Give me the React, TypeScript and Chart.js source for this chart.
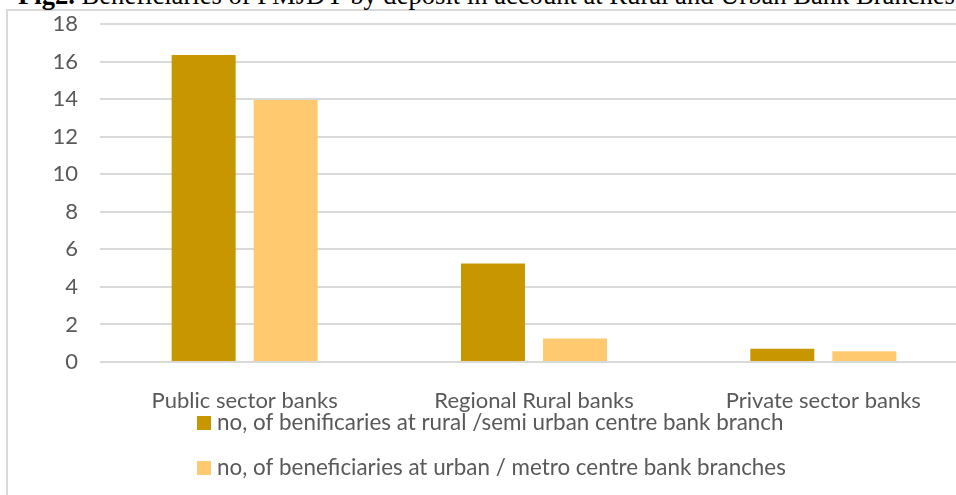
import React, { useEffect, useRef } from 'react';
import { Chart, registerables } from 'chart.js';

Chart.register(...registerables);

const titleBold = 'Fig2.';
const titleRest = ' Beneficiaries of PMJDY by deposit in account at Rural and Urban Bank Branches';
const categories = ['Public sector banks', 'Regional Rural banks', 'Private sector banks'];
const ruralLabel = 'no, of benificaries at rural /semi urban centre bank branch';
const urbanLabel = 'no, of beneficiaries at urban / metro centre bank branches';
const ruralValues = [16.35, 5.25, 0.7];
const urbanValues = [13.95, 1.25, 0.57];
const yMin = 0;
const yMax = 18;
const yStep = 2;

const FONT = 'Lato, "Open Sans", sans-serif';
const FONT_SIZE = 22;
const TEXT_COLOR = '#595959';

const stackedLegend = {
  id: 'stackedLegend',
  afterDraw(chart: any) {
    const { ctx, chartArea } = chart;
    ctx.save();
    ctx.font = `${FONT_SIZE + 0.4}px ${FONT}`;
    ctx.textBaseline = 'middle';
    ctx.textAlign = 'left';
    chart.data.datasets.forEach((ds: any, i: number) => {
      const cy = chartArea.bottom + 61 + i * 45;
      ctx.fillStyle = ds.backgroundColor;
      ctx.fillRect(chartArea.left + 97, cy - 7, 14, 14);
      ctx.fillStyle = TEXT_COLOR;
      ctx.fillText(ds.label, chartArea.left + 117, cy);
    });
    ctx.restore();
  },
};

export default function App() {
  const canvasRef = useRef<HTMLCanvasElement | null>(null);

  useEffect(() => {
    if (!canvasRef.current) return;
    const chart = new Chart(canvasRef.current, {
      type: 'bar',
      data: {
        labels: categories,
        datasets: [
          {
            label: ruralLabel,
            data: ruralValues,
            backgroundColor: '#C89700',
            categoryPercentage: 0.567,
            barPercentage: 0.78,
          },
          {
            label: urbanLabel,
            data: urbanValues,
            backgroundColor: '#FFC96F',
            categoryPercentage: 0.567,
            barPercentage: 0.78,
          },
        ],
      },
      options: {
        responsive: false,
        animation: false,
        layout: { padding: { top: 24, left: 0, right: 32, bottom: 0 } },
        plugins: {
          legend: { display: false },
          title: { display: false },
          tooltip: { enabled: false },
        },
        scales: {
          x: {
            grid: { display: false, drawTicks: false },
            border: { display: false },
            ticks: {
              color: TEXT_COLOR,
              font: { family: FONT, size: FONT_SIZE },
              padding: 26,
              maxRotation: 0,
              autoSkip: false,
            },
            afterFit: (s: any) => {
              s.height = 133;
            },
          },
          y: {
            min: yMin,
            max: yMax,
            grid: { color: '#D9D9D9', lineWidth: 2, drawTicks: false },
            border: { display: false },
            ticks: {
              stepSize: yStep,
              color: TEXT_COLOR,
              font: { family: FONT, size: FONT_SIZE },
              padding: 22,
            },
            afterFit: (s: any) => {
              s.width = 100;
              s.paddingTop = 12;
              s.paddingBottom = 12;
            },
          },
        },
      },
      plugins: [stackedLegend],
    });
    return () => chart.destroy();
  }, []);

  return (
    <div
      style={{
        position: 'absolute',
        left: 0,
        top: 0,
        width: 956,
        height: 495,
        overflow: 'hidden',
        background: '#fff',
      }}
    >
      <div
        style={{
          position: 'absolute',
          left: 6,
          top: 9,
          width: 1100,
          height: 700,
          border: '2px solid #D9D9D9',
        }}
      />
      <div
        style={{
          position: 'absolute',
          left: 18,
          top: -17,
          whiteSpace: 'nowrap',
          fontFamily: '"Liberation Serif", "Times New Roman", serif',
          fontSize: 26.6,
          lineHeight: '24px',
          color: '#000',
        }}
      >
        <b>{titleBold}</b>
        {titleRest}
      </div>
      <canvas
        ref={canvasRef}
        width={1000}
        height={495}
        style={{ position: 'absolute', left: 0, top: 0, width: 1000, height: 495 }}
      />
    </div>
  );
}
